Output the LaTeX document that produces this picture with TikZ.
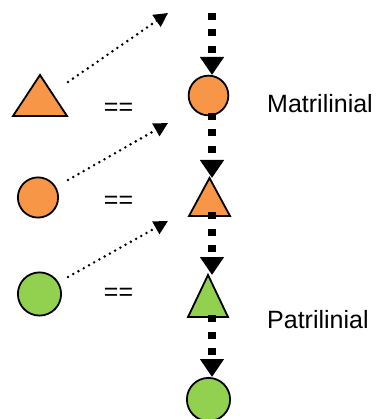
\documentclass[tikz,border=0pt]{standalone}
\usepackage{fontspec}
\setmainfont{Liberation Sans}
\usetikzlibrary{arrows.meta}
\definecolor{orng}{RGB}{247,150,70}
\definecolor{grn}{RGB}{146,208,80}
\begin{document}
\begin{tikzpicture}[x=1pt,y=-1pt,
  shp/.style={draw=black,line width=1.8pt,line join=miter},
  circ/.style={shp,circle,inner sep=0pt,minimum size=#1},
  lineage/.style={line width=8pt,dash pattern=on 7pt off 9.5pt,-{Triangle[length=18pt,width=23pt]}},
  link/.style={line width=2.8pt,line cap=round,dash pattern=on 0pt off 6pt,-{Triangle[length=14pt,width=14pt]}},
  lbl/.style={font=\fontsize{25}{30}\selectfont,inner sep=0pt}
]
\useasboundingbox (0,0) rectangle (378,419);

% left column
\path[shp,fill=orng] (13,116) -- (67,116) -- (40,75) -- cycle;
\node[circ=40.2pt,fill=orng] (lc2) at (38,197.5) {};
\node[circ=43.2pt,fill=grn] (lc3) at (39.5,294) {};

% right column
\node[circ=39.7pt,fill=orng] (c1) at (208.5,95.5) {};
\path[shp,fill=orng] (189,216) -- (230,216) -- (209.5,178) -- cycle;
\path[shp,fill=grn] (188,317) -- (228,317) -- (208,275) -- cycle;
\node[circ=43.2pt,fill=grn] (c4) at (208.5,399.5) {};

% connector end points
\coordinate (top) at (212,13);
\coordinate (c1n) at (212,75);
\coordinate (c1s) at (212,113);
\coordinate (t2n) at (212,178);
\coordinate (t2s) at (212,212);
\coordinate (t3n) at (212,275);
\coordinate (t3s) at (212,315);
\coordinate (c4n) at (212,377);

\coordinate (s1) at (68,82);  \coordinate (e1) at (168,13);
\coordinate (s2) at (68,180); \coordinate (e2) at (168,123);
\coordinate (s3) at (68,277); \coordinate (e3) at (168,221);

% vertical lineage
\draw[lineage] (top) -- (c1n);
\draw[lineage] (c1s) -- (t2n);
\draw[lineage] (t2s) -- (t3n);
\draw[lineage] (t3s) -- (c4n);

% dotted links
\draw[link] (s1) -- (e1);
\draw[link] (s2) -- (e2);
\draw[link] (s3) -- (e3);

% labels
\node[lbl,anchor=base] (eq1) at (118.5,116) {==};
\node[lbl,anchor=base] (eq2) at (118.5,208) {==};
\node[lbl,anchor=base] (eq3) at (118.5,300) {==};
\node[lbl,anchor=base west] (mat) at (267,113) {Matrilinial};
\node[lbl,anchor=base west] (pat) at (267,328) {Patrilinial};
\end{tikzpicture}
\end{document}
